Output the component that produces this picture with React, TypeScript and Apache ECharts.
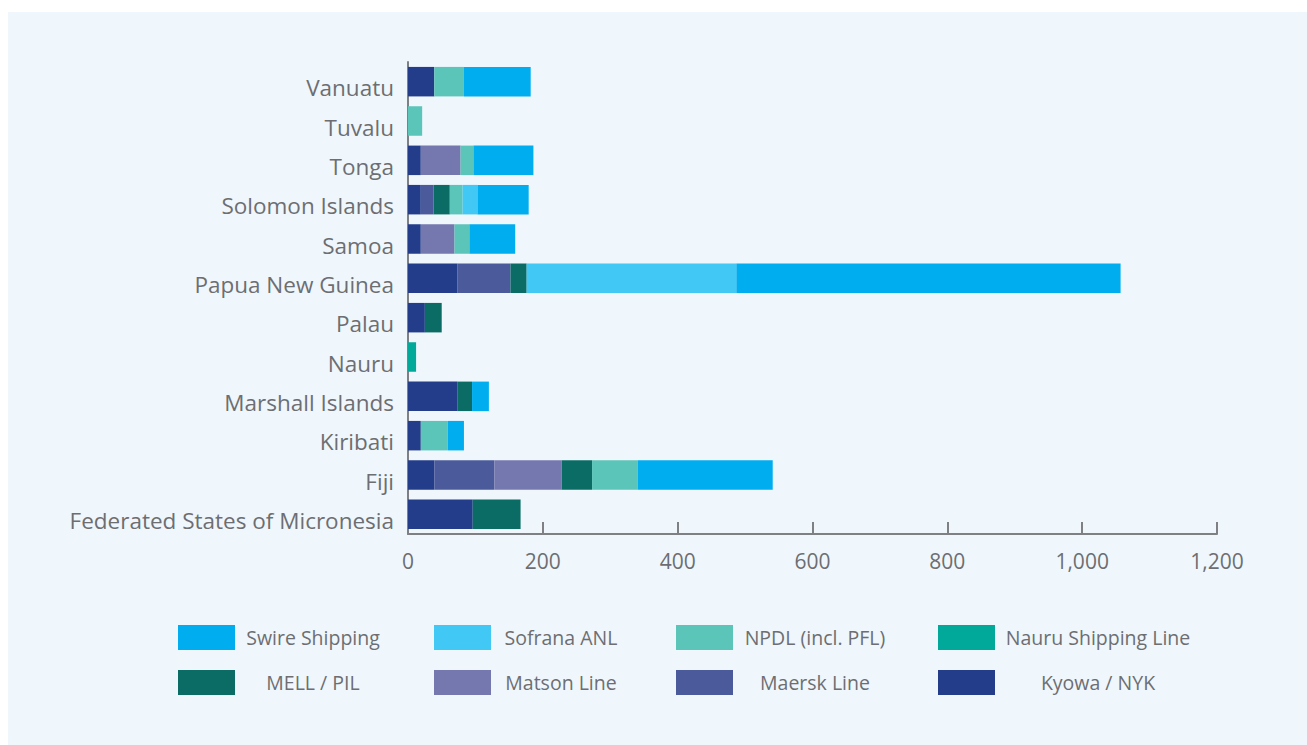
import React, { useEffect, useRef } from "react";
import * as echarts from "echarts";

const categories = [
  "Federated States of Micronesia",
  "Fiji",
  "Kiribati",
  "Marshall Islands",
  "Nauru",
  "Palau",
  "Papua New Guinea",
  "Samoa",
  "Solomon Islands",
  "Tonga",
  "Tuvalu",
  "Vanuatu",
];

const seriesNames = [
  "Kyowa / NYK",
  "Maersk Line",
  "Matson Line",
  "MELL / PIL",
  "Nauru Shipping Line",
  "NPDL (incl. PFL)",
  "Sofrana ANL",
  "Swire Shipping",
];

const colors = ["#243D8B", "#4A5A9B", "#7577AF", "#0A6C65", "#00A99A", "#5CC5B9", "#41C8F4", "#00AEEF"];

// values per category (order of categories above)
const kyowa = [96, 39, 19, 73, 0, 25, 73, 19, 19, 19, 0, 39];
const maersk = [0, 89, 0, 0, 0, 0, 79, 0, 19, 0, 0, 0];
const matson = [0, 100, 0, 0, 0, 0, 0, 50, 0, 59, 0, 0];
const mell = [71, 45, 0, 22, 0, 25, 24, 0, 24, 0, 0, 0];
const nauru = [0, 0, 0, 0, 12, 0, 0, 0, 0, 0, 0, 0];
const npdl = [0, 68, 40, 0, 0, 0, 0, 22, 19, 19, 21, 44];
const sofrana = [0, 0, 0, 0, 0, 0, 311, 0, 22, 0, 0, 0];
const swire = [0, 200, 24, 25, 0, 0, 570, 68, 76, 89, 0, 99];

const seriesData = [kyowa, maersk, matson, mell, nauru, npdl, sofrana, swire];

const xTicks = [0, 200, 400, 600, 800, 1000, 1200];

const legendOrder = [
  "Swire Shipping",
  "Sofrana ANL",
  "NPDL (incl. PFL)",
  "Nauru Shipping Line",
  "MELL / PIL",
  "Matson Line",
  "Maersk Line",
  "Kyowa / NYK",
];

export default function App() {
  const ref = useRef<HTMLDivElement>(null);
  useEffect(() => {
    document.body.style.margin = "0";
    document.body.style.overflow = "hidden";
    if (!ref.current) return;
    const chart = echarts.init(ref.current, undefined, { renderer: "svg" });
    const font = "Open Sans";
    const textColor = "#6D6E71";
    const colLefts = [178, 434, 676, 938];
    const colTextW = [146, 130, 154, 196];
    const rowTops = [625, 670];
    const legends = legendOrder.map((name, i) => ({
      data: [name],
      left: colLefts[i % 4],
      top: rowTops[Math.floor(i / 4)],
      orient: "horizontal",
      padding: 0,
      itemWidth: 57,
      itemHeight: 25,
      itemGap: 0,
      icon: "rect",
      selectedMode: false,
      formatter: (n: string) => `{c|${n}}`,
      textStyle: {
        color: textColor,
        fontFamily: font,
        fontSize: 19.5,
        rich: {
          c: {
            width: colTextW[i % 4],
            align: "center",
            color: textColor,
            fontFamily: font,
            fontSize: 19.5,
          },
        },
      },
    }));
    chart.setOption({
      animation: false,
      backgroundColor: "#FFFFFF",
      graphic: [
        {
          type: "rect",
          z: -10,
          silent: true,
          shape: { x: 8, y: 12, width: 1299, height: 733 },
          style: { fill: "#EFF7FD" },
        },
      ],
      legend: legends,
      grid: { left: 408, right: 90, top: 62, bottom: 211, containLabel: false },
      xAxis: {
        type: "value",
        min: xTicks[0],
        max: xTicks[xTicks.length - 1],
        interval: 200,
        axisLine: { show: true, lineStyle: { color: "#7F8083", width: 2 } },
        axisTick: { show: true, inside: true, length: 12, lineStyle: { color: "#7F8083", width: 2 } },
        splitLine: { show: false },
        axisLabel: {
          color: textColor,
          fontFamily: font,
          fontSize: 21,
          margin: 16,
          formatter: (v: number) => v.toLocaleString("en-US"),
        },
      },
      yAxis: {
        type: "category",
        data: categories,
        axisLine: { show: true, lineStyle: { color: "#7F8083", width: 2 } },
        axisTick: { show: false },
        axisLabel: {
          color: textColor,
          fontFamily: font,
          fontSize: 22.5,
          margin: 14,
          verticalAlign: "top",
          lineHeight: 12,
        },
      },
      series: seriesNames.map((name, i) => ({
        name,
        type: "bar",
        stack: "total",
        barCategoryGap: "25%",
        itemStyle: { color: colors[i] },
        data: seriesData[i],
      })),
    });
    return () => chart.dispose();
  }, []);
  return <div ref={ref} style={{ width: 1307, height: 745 }} />;
}
